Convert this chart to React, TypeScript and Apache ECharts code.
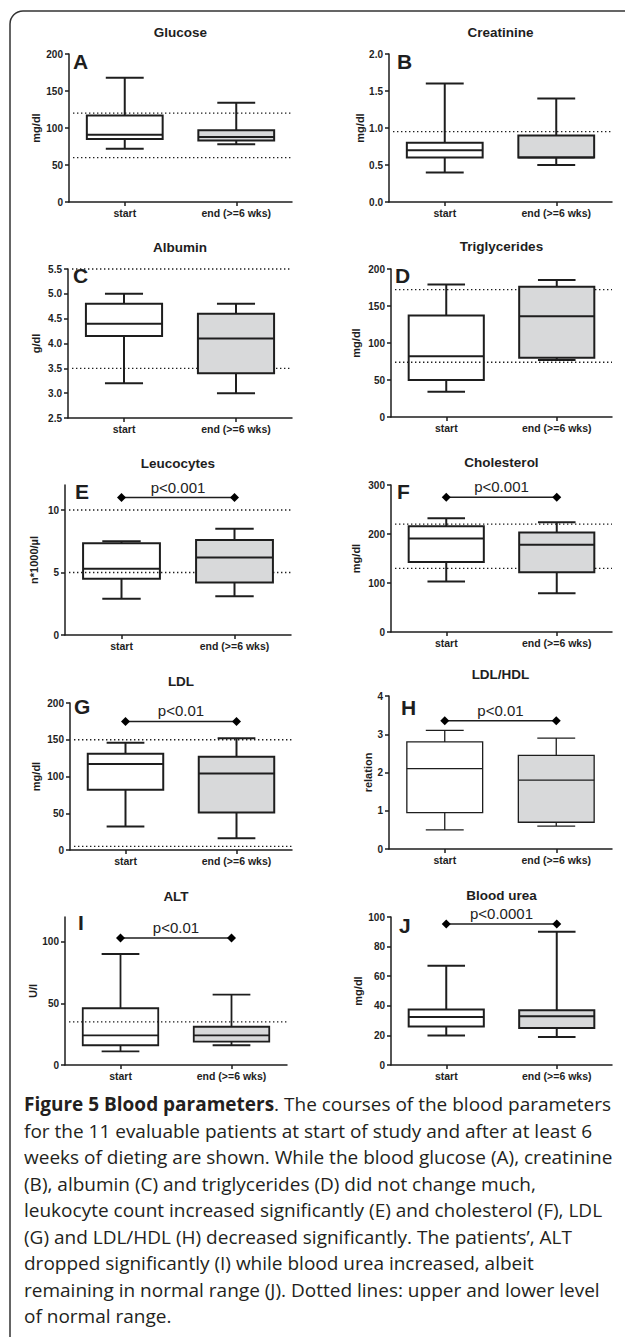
import React, { useEffect, useRef } from "react";
import * as echarts from "echarts";

// ---------- data ----------
const categories = ["start", "end (>=6 wks)"];
const panelLetters = ["A", "B", "C", "D", "E", "F", "G", "H", "I", "J"];
const panelTitles = ["Glucose", "Creatinine", "Albumin", "Triglycerides", "Leucocytes", "Cholesterol", "LDL", "LDL/HDL", "ALT", "Blood urea"];
const yUnits = ["mg/dl", "mg/dl", "g/dl", "mg/dl", "n*1000/µl", "mg/dl", "mg/dl", "relation", "U/l", "mg/dl"];

// box statistics: [min, Q1, median, Q3, max]
const glucoseStart = [72, 85, 91, 117, 168];
const glucoseEnd = [78, 83, 88, 97, 134];
const creatinineStart = [0.4, 0.6, 0.7, 0.8, 1.6];
const creatinineEnd = [0.5, 0.6, 0.6, 0.9, 1.4];
const albuminStart = [3.2, 4.15, 4.4, 4.8, 5.0];
const albuminEnd = [3.0, 3.4, 4.1, 4.6, 4.8];
const triglyceridesStart = [34, 50, 82, 137, 179];
const triglyceridesEnd = [77, 80, 136, 176, 185];
const leucocytesStart = [2.9, 4.5, 5.3, 7.35, 7.5];
const leucocytesEnd = [3.1, 4.2, 6.2, 7.6, 8.5];
const cholesterolStart = [103, 143, 191, 216, 232];
const cholesterolEnd = [79, 122, 178, 203, 224];
const ldlStart = [32, 82, 117, 131, 146];
const ldlEnd = [16, 51, 104, 127, 152];
const ldlHdlStart = [0.5, 0.95, 2.1, 2.8, 3.1];
const ldlHdlEnd = [0.6, 0.7, 1.8, 2.45, 2.9];
const altStart = [11, 16, 24, 46, 90];
const altEnd = [16, 19, 24, 31, 57];
const ureaStart = [20, 26, 32.5, 37.5, 67];
const ureaEnd = [19, 25, 33, 37, 90];

const startStats = [glucoseStart, creatinineStart, albuminStart, triglyceridesStart, leucocytesStart, cholesterolStart, ldlStart, ldlHdlStart, altStart, ureaStart];
const endStats = [glucoseEnd, creatinineEnd, albuminEnd, triglyceridesEnd, leucocytesEnd, cholesterolEnd, ldlEnd, ldlHdlEnd, altEnd, ureaEnd];

// normal range (dotted lines)
const normalRanges = [[60, 120], [0.95], [3.5, 5.5], [74, 172], [5, 10], [130, 220], [5, 150], [], [35], []];

// y axes
const yMins = [0, 0, 2.5, 0, 0, 0, 0, 0, 0, 0];
const yMaxs = [200, 2.0, 5.5, 200, 12, 300, 200, 4, 120, 100];
const yIntervals = [50, 0.5, 0.5, 50, 5, 100, 50, 1, 50, 20];
const yTickLabels = [
  [0, 50, 100, 150, 200],
  [0, 0.5, 1.0, 1.5, 2.0],
  [2.5, 3.0, 3.5, 4.0, 4.5, 5.0, 5.5],
  [0, 50, 100, 150, 200],
  [0, 5, 10],
  [0, 100, 200, 300],
  [0, 50, 100, 150, 200],
  [0, 1, 2, 3, 4],
  [0, 50, 100],
  [0, 20, 40, 60, 80, 100],
];
const yDecimals = [0, 1, 1, 0, 0, 0, 0, 0, 0, 0];

// significance brackets
const sigValues = [null, null, null, null, 11, 275, 175, 3.35, 103, 95.3];
const sigLabels = ["", "", "", "", "p<0.001", "p<0.001", "p<0.01", "p<0.01", "p<0.01", "p<0.0001"];

const captionLines = [
  "{b|Figure 5 Blood parameters}. The courses of the blood parameters",
  "for the 11 evaluable patients at start of study and after at least 6",
  "weeks of dieting are shown. While the blood glucose (A), creatinine",
  "(B), albumin (C) and triglycerides (D) did not change much,",
  "leukocyte count increased significantly (E) and cholesterol (F), LDL",
  "(G) and LDL/HDL (H) decreased significantly. The patients’, ALT",
  "dropped significantly (I) while blood urea increased, albeit",
  "remaining in normal range (J). Dotted lines: upper and lower level",
  "of normal range.",
];

// ---------- layout ----------
const gridRects = [
  [69, 54, 223, 148],
  [389, 54, 223, 148],
  [68, 269, 224, 149],
  [391, 269, 221, 148],
  [65, 485, 226, 150],
  [391, 485, 221, 147],
  [70, 703, 222, 147],
  [389, 696, 223, 153],
  [65, 917, 222, 148],
  [391, 917, 221, 148],
];
const titleY = [32, 32, 247, 246, 463, 462, 681, 674, 896, 895];
const letterPos = [
  [73, 61], [397, 61], [73, 275], [395, 275], [75, 491],
  [397, 491], [74, 706], [401, 707], [78, 922], [399, 925],
];
const nameCenterDist = [34, 30, 33, 36, 32, 36, 35, 22, 33, 34];
const boxLineWidths = [2, 2, 2, 2, 2, 2, 2, 1.3, 1.8, 2];

const INK = "#1e1e1e";
const FONT = "Liberation Sans, Arial, sans-serif";
const CAPFONT = "Open Sans, sans-serif";
const CAPSIZE = 19;

function buildOption() {
  const grid: any[] = [];
  const xAxis: any[] = [];
  const yAxis: any[] = [];
  const series: any[] = [];
  const graphic: any[] = [];

  gridRects.forEach((r, i) => {
    grid.push({ left: r[0], top: r[1], width: r[2], height: r[3], containLabel: false });
    xAxis.push({
      type: "category",
      gridIndex: i,
      data: categories,
      boundaryGap: true,
      axisLine: { show: true, lineStyle: { color: INK, width: 1.5 } },
      axisTick: { show: true, alignWithLabel: true, length: 4, lineStyle: { color: INK, width: 1.5 } },
      axisLabel: { color: INK, fontFamily: FONT, fontWeight: "bold", fontSize: 10.5, margin: 5 },
      splitLine: { show: false },
    });
    const dec = yDecimals[i];
    yAxis.push({
      type: "value",
      gridIndex: i,
      min: yMins[i],
      max: yMaxs[i],
      interval: yIntervals[i],
      name: yUnits[i],
      nameLocation: "middle",
      nameGap: nameCenterDist[i] - 6,
      nameTextStyle: { color: INK, fontFamily: FONT, fontWeight: "bold", fontSize: 11 },
      axisLine: { show: true, lineStyle: { color: INK, width: 1.5 } },
      axisTick: { show: true, length: 4, lineStyle: { color: INK, width: 1.5 }, customValues: yTickLabels[i] },
      axisLabel: {
        color: INK,
        fontFamily: FONT,
        fontWeight: "bold",
        fontSize: 10,
        margin: 6,
        customValues: yTickLabels[i],
        formatter: (v: number) => v.toFixed(dec),
      },
      splitLine: { show: false },
    });

    // normal range dotted lines
    if (normalRanges[i].length) {
      series.push({
        type: "custom",
        xAxisIndex: i,
        yAxisIndex: i,
        data: normalRanges[i].map((v) => [0, v]),
        encode: { x: 0, y: 1 },
        clip: false,
        silent: true,
        z: 1,
        renderItem: (params: any, api: any) => {
          const cs = params.coordSys;
          const y = api.coord([0, api.value(1)])[1];
          return {
            type: "line",
            shape: { x1: cs.x + 4, y1: y, x2: cs.x + cs.width, y2: y },
            style: { stroke: INK, lineWidth: 1.3, lineDash: [1.4, 2.6] },
          };
        },
      });
    }

    // boxes
    const lw = boxLineWidths[i];
    series.push({
      type: "custom",
      xAxisIndex: i,
      yAxisIndex: i,
      data: [
        [0, ...startStats[i]],
        [1, ...endStats[i]],
      ],
      encode: { x: 0, y: [1, 2, 3, 4, 5] },
      clip: false,
      silent: true,
      z: 2,
      renderItem: (params: any, api: any) => {
        const xi = api.value(0);
        const pMin = api.coord([xi, api.value(1)]);
        const yQ1 = api.coord([xi, api.value(2)])[1];
        const yMed = api.coord([xi, api.value(3)])[1];
        const yQ3 = api.coord([xi, api.value(4)])[1];
        const yMax = api.coord([xi, api.value(5)])[1];
        const yMn = pMin[1];
        const cx = pMin[0];
        const band = api.size([1, 0])[0];
        const bw = band * 0.68;
        const cw = bw / 2;
        const st = { stroke: INK, lineWidth: lw };
        return {
          type: "group",
          children: [
            { type: "line", shape: { x1: cx, y1: yMax, x2: cx, y2: yQ3 }, style: st },
            { type: "line", shape: { x1: cx, y1: yQ1, x2: cx, y2: yMn }, style: st },
            { type: "line", shape: { x1: cx - cw / 2, y1: yMax, x2: cx + cw / 2, y2: yMax }, style: st },
            { type: "line", shape: { x1: cx - cw / 2, y1: yMn, x2: cx + cw / 2, y2: yMn }, style: st },
            {
              type: "rect",
              shape: { x: cx - bw / 2, y: yQ3, width: bw, height: yQ1 - yQ3 },
              style: { fill: xi === 0 ? "none" : "#d8d9da", stroke: INK, lineWidth: lw },
            },
            { type: "line", shape: { x1: cx - bw / 2, y1: yMed, x2: cx + bw / 2, y2: yMed }, style: st },
          ],
        };
      },
    });

    // significance bracket
    const sv = sigValues[i];
    if (sv !== null) {
      const label = sigLabels[i];
      series.push({
        type: "custom",
        xAxisIndex: i,
        yAxisIndex: i,
        data: [[0, sv]],
        encode: { x: 0, y: 1 },
        clip: false,
        silent: true,
        z: 3,
        renderItem: (params: any, api: any) => {
          const v = api.value(1);
          const p1 = api.coord([0, v]);
          const p2 = api.coord([1, v]);
          const d = 4.5;
          const diamond = (p: number[]) => ({
            type: "polygon",
            shape: { points: [[p[0], p[1] - d], [p[0] + d, p[1]], [p[0], p[1] + d], [p[0] - d, p[1]]] },
            style: { fill: "#000" },
          });
          return {
            type: "group",
            children: [
              { type: "line", shape: { x1: p1[0], y1: p1[1], x2: p2[0], y2: p2[1] }, style: { stroke: INK, lineWidth: 1.5 } },
              diamond(p1),
              diamond(p2),
              {
                type: "text",
                style: {
                  text: label,
                  x: (p1[0] + p2[0]) / 2,
                  y: p1[1] - 3,
                  align: "center",
                  verticalAlign: "bottom",
                  textAlign: "center",
                  textVerticalAlign: "bottom",
                  fontSize: 15,
                  fontFamily: FONT,
                  fill: "#222",
                },
              },
            ],
          };
        },
      });
    }

    // title and letter
    graphic.push({
      type: "text",
      silent: true,
      style: {
        text: panelTitles[i],
        x: r[0] + r[2] / 2,
        y: titleY[i],
        align: "center",
        verticalAlign: "middle",
        textAlign: "center",
        textVerticalAlign: "middle",
        fontSize: 13.5,
        fontWeight: "bold",
        fontFamily: FONT,
        fill: INK,
      },
    });
    graphic.push({
      type: "text",
      silent: true,
      style: {
        text: panelLetters[i],
        x: letterPos[i][0],
        y: letterPos[i][1],
        align: "left",
        verticalAlign: "middle",
        textAlign: "left",
        textVerticalAlign: "middle",
        fontSize: 21,
        fontWeight: "bold",
        fontFamily: FONT,
        fill: INK,
      },
    });
  });

  // frame
  graphic.push({
    type: "rect",
    silent: true,
    shape: { x: 10, y: 11, width: 700, height: 1400, r: [13, 0, 0, 0] },
    style: { fill: "none", stroke: "#333", lineWidth: 1.5 },
  });

  // caption
  captionLines.forEach((line, k) => {
    graphic.push({
      type: "text",
      silent: true,
      style: {
        text: line,
        x: 24,
        y: 1104 + k * 26.5,
        align: "left",
        verticalAlign: "middle",
        textAlign: "left",
        textVerticalAlign: "middle",
        fontSize: CAPSIZE,
        fontFamily: CAPFONT,
        fill: "#231f20",
        rich: {
          b: { fontSize: CAPSIZE, fontFamily: CAPFONT, fontWeight: "bold", fill: "#231f20" },
        },
      },
    });
  });

  return {
    animation: false,
    backgroundColor: "#fff",
    grid,
    xAxis,
    yAxis,
    series,
    graphic,
  };
}

export default function App() {
  const ref = useRef<HTMLDivElement>(null);
  useEffect(() => {
    document.body.style.margin = "0";
    const el = ref.current;
    if (!el) return;
    const chart = echarts.init(el, undefined, { renderer: "svg" });
    chart.setOption(buildOption() as any);
    return () => chart.dispose();
  }, []);
  return <div ref={ref} style={{ width: 625, height: 1337 }} />;
}
